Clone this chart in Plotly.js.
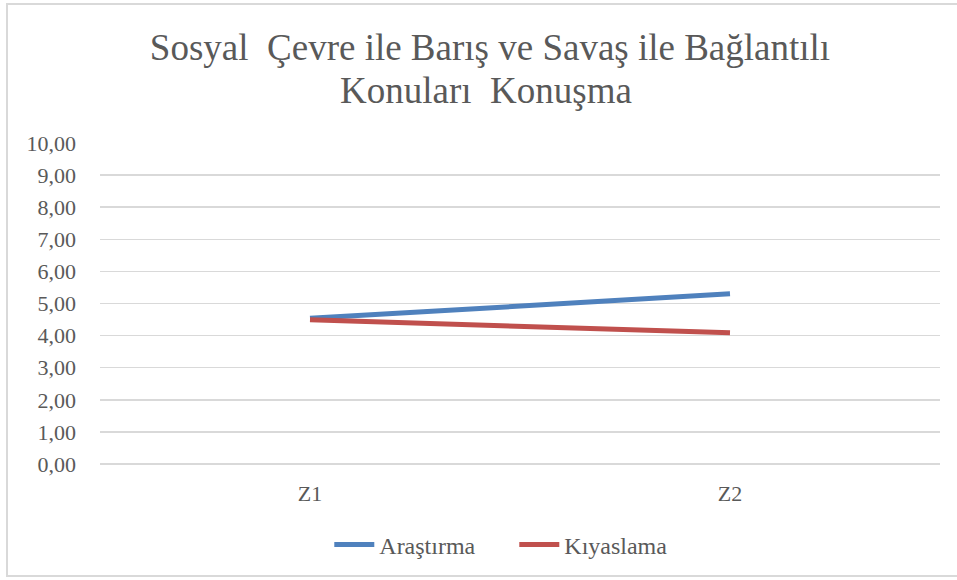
<!DOCTYPE html>
<html>
<head>
<meta charset="utf-8">
<script src="https://cdn.plot.ly/plotly-3.0.1.min.js"></script>
<style>
  html, body { margin: 0; padding: 0; background: #ffffff; }
  #wrap { position: relative; width: 957px; height: 580px; overflow: hidden; }
  #chart { position: absolute; left: 0; top: 0; width: 957px; height: 580px; }
  #frame { position: absolute; left: 6px; top: 3px; width: 960px; height: 574px; border: 2px solid #d9d9d9; box-sizing: border-box; pointer-events: none; }
</style>
</head>
<body>
<div id="wrap">
  <div id="chart"></div>
  <div id="frame"></div>
</div>
<script>
const categories = ["Z1", "Z2"];
const arastirma = [4.54, 5.30];
const kiyaslama = [4.49, 4.09];
const seriesNames = ["Araştırma", "Kıyaslama"];
const titleLine1 = "Sosyal  Çevre ile Barış ve Savaş ile Bağlantılı";
const titleLine2 = "Konuları  Konuşma";

const font = "Liberation Serif, Times New Roman, serif";
const textColor = "#595959";

const traces = [
  { x: categories, y: arastirma, name: seriesNames[0], type: "scatter", mode: "lines",
    line: { color: "#4F81BD", width: 5, shape: "linear" }, hoverinfo: "skip" },
  { x: categories, y: kiyaslama, name: seriesNames[1], type: "scatter", mode: "lines",
    line: { color: "#C0504D", width: 5, shape: "linear" }, hoverinfo: "skip" }
];

const layout = {
  width: 957, height: 580,
  paper_bgcolor: "rgba(0,0,0,0)", plot_bgcolor: "#ffffff",
  separators: ",.",
  margin: { l: 100, r: 17, t: 143, b: 116, pad: 0 },
  font: { family: font, color: textColor, size: 22 },
  title: { text: titleLine1, font: { family: font, size: 37, color: textColor },
           x: 490/957, xanchor: "center", y: 1 - 47/580, yanchor: "middle", yref: "container" },
  annotations: [
    { text: titleLine2, xref: "paper", yref: "paper", x: (486-100)/840, y: (464-90)/321,
      xanchor: "center", yanchor: "middle", showarrow: false,
      font: { family: font, size: 37, color: textColor } }
  ],
  xaxis: { type: "category", range: [-0.5, 1.5], showgrid: false, zeroline: false,
           showline: false, ticks: "", tickfont: { family: font, size: 22, color: textColor },
           ticklabelstandoff: 14, fixedrange: true },
  yaxis: { range: [0, 10], dtick: 1, tickformat: ".2f", showgrid: true, gridcolor: "#d9d9d9",
           gridwidth: 1.5, zeroline: true, zerolinecolor: "#d9d9d9", zerolinewidth: 1.5,
           showline: false, ticks: "", ticklabelstandoff: 23,
           tickfont: { family: font, size: 22, color: textColor }, fixedrange: true },
  showlegend: true,
  legend: { orientation: "h", x: 472/957, xanchor: "center", y: 1 - 545/580, yanchor: "middle",
            yref: "container", font: { family: font, size: 24, color: textColor },
            itemwidth: 40, entrywidth: 130, entrywidthmode: "pixels",
            tracegroupgap: 0, bgcolor: "rgba(0,0,0,0)" }
};

Plotly.newPlot("chart", traces, layout, { displayModeBar: false, staticPlot: true });
</script>
</body>
</html>
